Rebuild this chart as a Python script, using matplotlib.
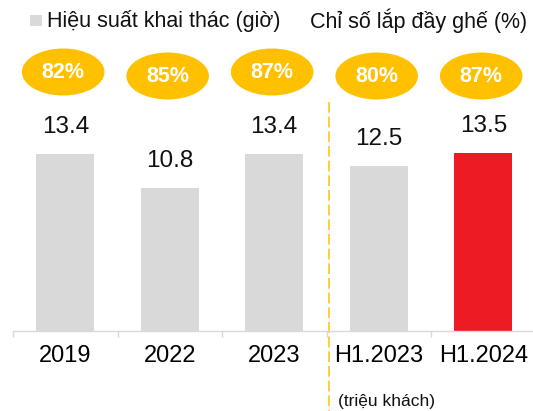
import matplotlib
matplotlib.use("Agg")
import matplotlib.pyplot as plt
from matplotlib.patches import Ellipse, Rectangle
from matplotlib.lines import Line2D
import matplotlib.transforms as mtransforms

plt.rcParams['font.family'] = ['Liberation Sans', 'DejaVu Sans']

categories = ["2019", "2022", "2023", "H1.2023", "H1.2024"]
hours = [13.4, 10.8, 13.4, 12.5, 13.5]
load_factor = ["82%", "85%", "87%", "80%", "87%"]
value_labels = ["13.4", "10.8", "13.4", "12.5", "13.5"]

GRAY = "#D9D9D9"
RED = "#ED1C24"
YELLOW = "#FFC000"
bar_colors = [GRAY, GRAY, GRAY, GRAY, RED]

W, H = 533, 411
fig = plt.figure(figsize=(W / 100, H / 100), dpi=100)
ax = fig.add_axes([13 / W, (H - 331) / H, 522.5 / W, 264 / H])

x = list(range(len(categories)))
ax.bar(x, hours, width=0.555, color=bar_colors, zorder=2)
ax.set_xlim(-0.5, 4.5)
ax.set_ylim(0, 20)

for xi, v, lab in zip(x, hours, value_labels):
    ax.annotate(lab, (xi, v), xytext=(0, 19.5), textcoords='offset points',
                ha='center', va='center', fontsize=17.5, color='#111111',
                annotation_clip=False)

for s in ['top', 'right', 'left']:
    ax.spines[s].set_visible(False)
ax.spines['bottom'].set_color(GRAY)
ax.spines['bottom'].set_linewidth(1.0)
ax.set_yticks([])
ax.set_xticks(x)
ax.set_xticklabels(categories, fontsize=17)
ax.tick_params(axis='x', which='major', length=0, pad=10)
ax.set_xticks([i - 0.5 for i in x] + [4.5], minor=True)
ax.tick_params(axis='x', which='minor', length=4.5, width=1.0, color=GRAY)

# ellipses with load factor
bt = mtransforms.blended_transform_factory(ax.transData, fig.transFigure)
ell_y = [72, 76, 72, 76, 76]
for xi, lf, yy in zip(x, load_factor, ell_y):
    e = Ellipse((xi - 0.02, 1 - yy / H), 0.79, 47 / H, transform=bt,
                facecolor=YELLOW, edgecolor='none', clip_on=False)
    ax.add_patch(e)
    ax.text(xi - 0.02, 1 - yy / H, lf, transform=bt, ha='center', va='center',
            color='white', fontsize=15.5, fontweight='bold', clip_on=False)

# dashed separator
sep = Line2D([2.52, 2.52], [1 - 102 / H, 0], transform=bt, color=YELLOW,
             linewidth=1.1, linestyle=(0, (7, 2.6)), clip_on=False)
ax.add_line(sep)

# legend
fig.patches.append(Rectangle((30 / W, 1 - 26.5 / H), 11.5 / W, 11.5 / H,
                             transform=fig.transFigure, facecolor=GRAY,
                             edgecolor='none'))
fig.text(47 / W, 1 - 21 / H, "Hiệu suất khai thác (giờ)", ha='left',
         va='center', fontsize=15.5, color='#111111')
fig.text(310 / W, 1 - 21 / H, "Chỉ số lắp đầy ghế (%)", ha='left',
         va='center', fontsize=15.5, color='#111111')

fig.text(338 / W, 1 - 401 / H, "(triệu khách)", ha='left', va='center',
         fontsize=12.5, color='#111111')

fig.savefig("out.png", dpi=100)
